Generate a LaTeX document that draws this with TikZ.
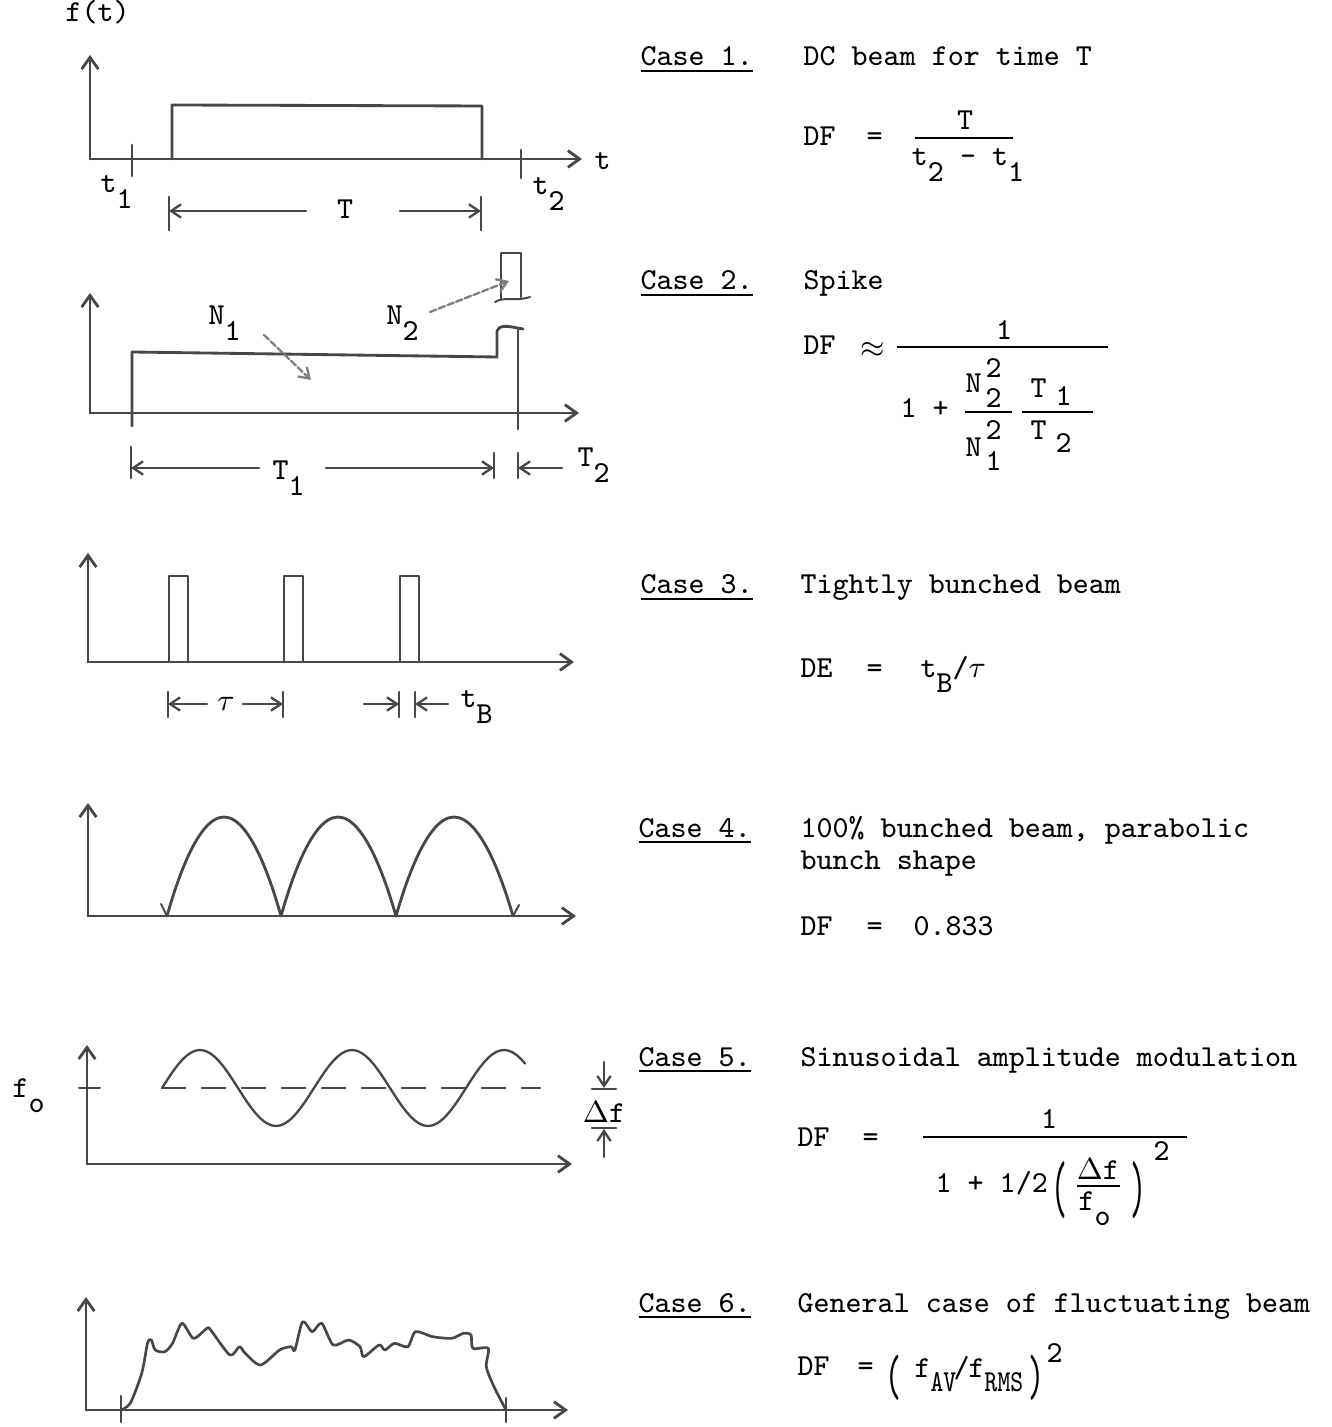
\RequirePackage{fix-cm}
\documentclass[tikz,border=0pt]{standalone}
\usetikzlibrary{arrows.meta}
\usepackage{graphicx}
\newcommand\dn[1]{\raisebox{-0.5em}{#1}}
\newcommand\cnd[1]{\scalebox{0.8}[1]{#1}}
\begin{document}
\begin{tikzpicture}[x=0.3pt,y=-0.3pt,
  ln/.style={line width=0.85pt, draw=black!72, line cap=round, line join=round},
  ax/.style={ln, -{Straight Barb[length=3.5pt,width=5pt]}},
  dim/.style={ln, line width=0.7pt, -{Straight Barb[length=3pt,width=4pt]}},
  bar/.style={ln, line width=0.8pt},
  ptr/.style={ln, draw=black!50, line width=0.7pt, dash pattern=on 2pt off 0.8pt, -{Straight Barb[length=3pt,width=4pt]}},
  rl/.style={line width=0.6pt, draw=black},
  txt/.style={inner sep=0pt, anchor=base west, font=\fontsize{9.15pt}{11pt}\selectfont\ttfamily},
  ctxt/.style={txt, anchor=base},
  par/.style={inner sep=0pt, anchor=center, font=\fontsize{9.15pt}{11pt}\selectfont\ttfamily}]
\useasboundingbox (0,0) rectangle (1331,1427);

% ================= Graph 1 =================
\coordinate (g1o) at (90,159); \coordinate (g1y) at (90,55); \coordinate (g1x) at (582,159);
\draw[ax] (g1o) -- (g1y);
\draw[ax] (g1o) -- (g1x);
\draw[ln] (132,145) -- (132,176);
\draw[ln] (521,150) -- (521,178);
\draw[ln] (172,159) -- (172,105) -- (482,106) -- (482,159);
\node[txt] (ft) at (65,22) {f(t)};
\node[txt] (tlab) at (594,170) {t};
\node[txt] (t1lab) at (100,193) {t\dn{1}};
\node[txt] (t2lab) at (532,195) {t\dn{2}};
\draw[bar] (169,197) -- (169,230);
\draw[bar] (481,197) -- (481,230);
\node[ctxt] (g1T) at (345,219) {T};
\coordinate (g1Ta) at (306,211); \coordinate (g1Tl) at (169,211);
\coordinate (g1Tb) at (400,211); \coordinate (g1Tr) at (481,211);
\draw[dim] (g1Ta) -- (g1Tl);
\draw[dim] (g1Tb) -- (g1Tr);

% ================= Graph 2 =================
\coordinate (g2o) at (90,413); \coordinate (g2y) at (90,293); \coordinate (g2x) at (579,413);
\draw[ax] (g2o) -- (g2y);
\draw[ax] (g2o) -- (g2x);
\draw[ln] (132,426) -- (132,352) -- (497,357) -- (497,331) .. controls (499,325) and (506,326) .. (512,327) -- (523,329);
\draw[ln] (518,329) -- (518,429);
\draw[ln] (501,299) -- (501,253) -- (521,253) -- (521,297);
\draw[ln, line width=0.6pt] (495,302) .. controls (505,296) and (514,302) .. (530,297);
\node[txt] (N1) at (208,325) {N\dn{1}};
\node[txt] (N2) at (386,325) {N\dn{2}};
\coordinate (n1a) at (264,335); \coordinate (n1b) at (311,380);
\coordinate (n2a) at (430,312); \coordinate (n2b) at (509,281);
\draw[ptr] (n1a) -- (n1b);
\draw[ptr] (n2a) -- (n2b);
\draw[bar] (131,447) -- (131,478);
\draw[bar] (494,453) -- (494,478);
\draw[bar] (518,453) -- (518,478);
\node[txt] (T1lab) at (272,480) {T\dn{1}};
\node[txt] (T2lab) at (577,467) {T\dn{2}};
\coordinate (d2a) at (259,468); \coordinate (d2l) at (131,468);
\coordinate (d2b) at (326,468); \coordinate (d2r) at (494,468);
\coordinate (d2c) at (562,468); \coordinate (d2s) at (518,468);
\draw[dim] (d2a) -- (d2l);
\draw[dim] (d2b) -- (d2r);
\draw[dim] (d2c) -- (d2s);

% ================= Graph 3 =================
\coordinate (g3o) at (88,662); \coordinate (g3y) at (88,553); \coordinate (g3x) at (574,662);
\draw[ax] (g3o) -- (g3y);
\draw[ax] (g3o) -- (g3x);
\foreach \a/\b in {169/188, 284/303, 400/419}
  \draw[ln] (\a,662) -- (\a,576) -- (\b,576) -- (\b,662);
\foreach \a in {168,283,399,415}
  \draw[bar] (\a,692) -- (\a,717);
\node[ctxt] (taulab) at (226,710) {$\tau$};
\node[txt] (tBlab) at (460,708) {t\dn{B}};
\coordinate (d3a) at (207,704); \coordinate (d3l) at (168,704);
\coordinate (d3b) at (243,704); \coordinate (d3r) at (283,704);
\coordinate (d3c) at (364,704); \coordinate (d3s) at (399,704);
\coordinate (d3d) at (448,704); \coordinate (d3t) at (415,704);
\draw[dim] (d3a) -- (d3l);
\draw[dim] (d3b) -- (d3r);
\draw[dim] (d3c) -- (d3s);
\draw[dim] (d3d) -- (d3t);

% ================= Graph 4 =================
\coordinate (g4o) at (88,916); \coordinate (g4y) at (88,803); \coordinate (g4x) at (576,916);
\draw[ax] (g4o) -- (g4y);
\draw[ax] (g4o) -- (g4x);
\draw[ln] (167,916) parabola bend (224,817) (281,916);
\draw[ln] (281,916) parabola bend (338,817) (396,916);
\draw[ln] (396,916) parabola bend (454,817) (513,916);
\draw[ln, line width=0.6pt] (161,904) -- (167,916);
\draw[ln, line width=0.6pt] (513,916) -- (519,905);

% ================= Graph 5 =================
\coordinate (g5o) at (87,1164); \coordinate (g5y) at (87,1045); \coordinate (g5x) at (572,1164);
\draw[ax] (g5o) -- (g5y);
\draw[ax] (g5o) -- (g5x);
\draw[ln, line width=0.6pt] (79,1088) -- (100,1088);
\draw[ln, line width=0.7pt, dash pattern=on 7pt off 5pt] (162,1088) -- (540,1088);
\draw[ln, line width=0.7pt] plot[domain=162:525, samples=90] (\x,{1088-38*sin(2.3684*(\x-162))});
\node[txt] (folab) at (12,1097) {f\dn{o}};
\node[ctxt] (dflab) at (604,1122) {$\Delta$f};
\coordinate (df1) at (604,1062); \coordinate (df2) at (604,1088);
\coordinate (df3) at (604,1157); \coordinate (df4) at (604,1129);
\draw[dim] (df1) -- (df2);
\draw[dim] (df3) -- (df4);
\draw[bar] (592,1089) -- (616,1089);
\draw[bar] (592,1128) -- (616,1128);

% ================= Graph 6 =================
\coordinate (g6o) at (86,1410); \coordinate (g6y) at (86,1297); \coordinate (g6x) at (568,1410);
\draw[ax] (g6o) -- (g6y);
\draw[ax] (g6o) -- (g6x);
\draw[ln] (121,1396) -- (121,1422);
\draw[ln] (506,1398) -- (506,1422);
\draw[ln, line width=0.8pt] plot[smooth, tension=0.45] coordinates {
 (121,1410) (130.4,1403) (141.8,1373) (147.6,1343) (151.4,1340) (155.2,1350)
 (164.8,1351.7) (172.5,1343.3) (182,1323.3) (193.5,1338.3) (206.9,1328.3) (210.7,1330)
 (229.9,1355) (239.4,1346.7) (245.2,1353.3) (260.5,1365) (279.6,1350) (291.1,1346.7)
 (294.9,1350) (302.6,1321.7) (312.2,1331.7) (321.7,1323.3) (333.2,1345) (348.5,1340)
 (360,1346.7) (363.8,1356.7) (379.1,1345) (384.9,1350) (394.4,1343.3) (407.8,1346.7)
 (415.5,1331.7) (432.7,1336.7) (451.8,1338.3) (463.3,1333.3) (471,1335) (472.9,1348.3)
 (488.2,1348.3) (486.3,1366.7) (494,1386.7) (506,1410)};

% ================= Right-hand text =================
% Case 1
\node[txt] (c1) at (640,66) {\underline{Case 1.}};
\node[txt] (c1d) at (803,66) {DC beam for time T};
\node[txt] (e1df) at (803,146) {DF};
\node[txt] (e1eq) at (866,146) {=};
\node[ctxt] (e1n) at (965,130) {T};
\node[ctxt] (e1d) at (968,166) {t\dn{2} - t\dn{1}};
\coordinate (e1ra) at (915,138); \coordinate (e1rb) at (1013,138);
\draw[rl] (e1ra) -- (e1rb);

% Case 2
\node[txt] (c2) at (640,290) {\underline{Case 2.}};
\node[txt] (c2d) at (803,290) {Spike};
\node[txt] (e2df) at (803,355) {DF};
\node[par] (e2ap) at (873,350) {$\approx$};
\node[ctxt] (e2n) at (1004,340) {1};
\coordinate (e2ra) at (897,347); \coordinate (e2rb) at (1108,347);
\draw[rl] (e2ra) -- (e2rb);
\node[txt] (e2one) at (900,418) {1 +};
\node[txt] (e2Nt) at (965,393) {N};
\node[txt] (e2Nts) at (985,378) {2};
\node[txt] (e2Ntb) at (985,408) {2};
\coordinate (e2na) at (965,412); \coordinate (e2nb) at (1012,412);
\draw[rl] (e2na) -- (e2nb);
\node[txt] (e2Nb) at (965,457) {N};
\node[txt] (e2Nbs) at (985,440) {2};
\node[txt] (e2Nbb) at (985,471) {1};
\node[txt] (e2Tt) at (1030,398) {T};
\node[txt] (e2Tts) at (1055,406) {1};
\coordinate (e2ta) at (1022,412); \coordinate (e2tb) at (1093,412);
\draw[rl] (e2ta) -- (e2tb);
\node[txt] (e2Tb) at (1030,440) {T};
\node[txt] (e2Tbs) at (1055,453) {2};

% Case 3
\node[txt] (c3) at (640,594) {\underline{Case 3.}};
\node[txt] (c3d) at (800,594) {Tightly bunched beam};
\node[txt] (e3de) at (800,677) {DE};
\node[txt] (e3eq) at (866,677) {=};
\node[txt] (e3r) at (920,677) {t\dn{B}/$\tau$};

% Case 4
\node[txt] (c4) at (638,837) {\underline{Case 4.}};
\node[txt] (c4d) at (800,837) {100\% bunched beam, parabolic};
\node[txt] (c4e) at (800,869) {bunch shape};
\node[txt] (e4df) at (800,935) {DF};
\node[txt] (e4eq) at (866,935) {=};
\node[txt] (e4v) at (913,935) {0.833};

% Case 5
\node[txt] (c5) at (638,1066) {\underline{Case 5.}};
\node[txt] (c5d) at (800,1066) {Sinusoidal amplitude modulation};
\node[txt] (e5df) at (797,1146) {DF};
\node[txt] (e5eq) at (862,1146) {=};
\node[ctxt] (e5n) at (1049,1128) {1};
\coordinate (e5ra) at (923,1137); \coordinate (e5rb) at (1187,1137);
\draw[rl] (e5ra) -- (e5rb);
\node[txt] (e5den) at (935,1192) {1 + 1/2};
\node[par] (e5lp) at (1059,1190) {\scalebox{1}[2.4]{(}};
\node[ctxt] (e5dfn) at (1098,1179) {$\Delta$f};
\coordinate (e5qa) at (1077,1186); \coordinate (e5qb) at (1120,1186);
\draw[rl] (e5qa) -- (e5qb);
\node[txt] (e5fo) at (1078,1210) {f\dn{o}};
\node[par] (e5rp) at (1138,1190) {\scalebox{1}[2.4]{)}};
\node[txt] (e5sq) at (1153,1160) {2};

% Case 6
\node[txt] (c6) at (638,1312) {\underline{Case 6.}};
\node[txt] (c6d) at (797,1312) {General case of fluctuating beam};
\node[txt] (e6df) at (797,1375) {DF};
\node[txt] (e6eq) at (857,1375) {=};
\node[par] (e6lp) at (893,1378) {\scalebox{1}[1.9]{(}};
\node[txt] (e6f1) at (914,1377) {f};
\node[txt] (e6av) at (930,1391) {\cnd{AV}};
\node[txt] (e6sl) at (953,1377) {/};
\node[txt] (e6f2) at (968,1377) {f};
\node[txt] (e6rms) at (984,1391) {\cnd{RMS}};
\node[par] (e6rp) at (1036,1378) {\scalebox{1}[1.9]{)}};
\node[txt] (e6sq) at (1046,1362) {2};
\end{tikzpicture}
\end{document}
